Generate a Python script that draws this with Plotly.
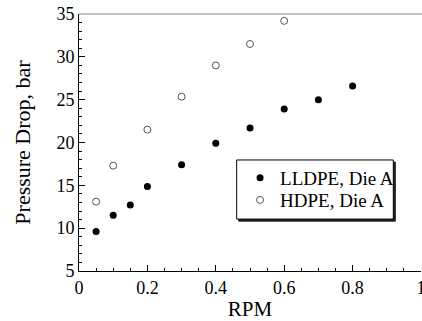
import plotly.graph_objects as go

rpm_lldpe = [0.05, 0.1, 0.15, 0.2, 0.3, 0.4, 0.5, 0.6, 0.7, 0.8]
dp_lldpe = [9.6, 11.5, 12.7, 14.85, 17.4, 19.9, 21.7, 23.9, 25.0, 26.6]
rpm_hdpe = [0.05, 0.1, 0.2, 0.3, 0.4, 0.5, 0.6]
dp_hdpe = [13.1, 17.3, 21.5, 25.35, 29.0, 31.5, 34.2]

x_ticks = [0, 0.2, 0.4, 0.6, 0.8, 1]
x_ticklabels = ["0", "0.2", "0.4", "0.6", "0.8", "1"]
y_ticks = [5, 10, 15, 20, 25, 30, 35]

FONT = "Liberation Serif"

fig = go.Figure()
fig.add_trace(go.Scatter(
    x=rpm_lldpe, y=dp_lldpe, mode="markers", name="LLDPE, Die A",
    marker=dict(symbol="circle", size=7, color="black"), legend="legend",
))
fig.add_trace(go.Scatter(
    x=rpm_hdpe, y=dp_hdpe, mode="markers", name="HDPE, Die A",
    marker=dict(symbol="circle-open", size=7, color="#555555", line=dict(width=1)),
    legend="legend2",
))

leg_common = dict(
    xanchor="left", yanchor="middle",
    bgcolor="rgba(0,0,0,0)", borderwidth=0,
    font=dict(family=FONT, size=19, color="black"),
    itemwidth=30,
)

fig.update_layout(
    width=422, height=321,
    margin=dict(l=79, r=1, t=14, b=50),
    paper_bgcolor="white", plot_bgcolor="white",
    font=dict(family=FONT, color="black", size=18),
    showlegend=True,
    legend=dict(x=0.471, y=0.362, **leg_common),
    legend2=dict(x=0.471, y=0.276, **leg_common),
    xaxis=dict(
        range=[0, 1], tickvals=x_ticks, ticktext=x_ticklabels,
        ticks="inside", ticklen=6, tickcolor="black", tickwidth=1,
        minor=dict(dtick=0.05, ticks="inside", ticklen=3, tickcolor="black"),
        showgrid=False, zeroline=False, showline=True, linecolor="black", linewidth=1,
        title=dict(text="RPM", font=dict(size=21), standoff=4),
        tickfont=dict(size=18), automargin=False, ticklabeloverflow="allow",
    ),
    yaxis=dict(
        range=[5, 35], tickvals=y_ticks,
        ticks="inside", ticklen=6, tickcolor="black", tickwidth=1,
        minor=dict(dtick=1, ticks="inside", ticklen=3, tickcolor="black"),
        showgrid=False, zeroline=False, showline=True, linecolor="black", linewidth=1,
        title=dict(text="Pressure Drop, bar", font=dict(size=22), standoff=19),
        tickfont=dict(size=18), automargin=False, ticklabeloverflow="allow",
    ),
)
# top frame line
fig.add_shape(type="line", xref="paper", yref="paper", x0=0, x1=1.01, y0=1, y1=1,
              line=dict(color="#888888", width=1))
# legend box with drop shadow
fig.add_shape(type="rect", xref="paper", yref="paper",
              x0=0.461 + 0.006, x1=0.919 + 0.006, y0=0.202 - 0.008, y1=0.432 - 0.008,
              line=dict(color="#222222", width=1), fillcolor="#222222", layer="above")
fig.add_shape(type="rect", xref="paper", yref="paper",
              x0=0.461, x1=0.919, y0=0.202, y1=0.432,
              line=dict(color="black", width=1), fillcolor="white", layer="above")

fig.write_html("out.html", post_script="document.body.style.margin='0';",
               config={"displayModeBar": False})
